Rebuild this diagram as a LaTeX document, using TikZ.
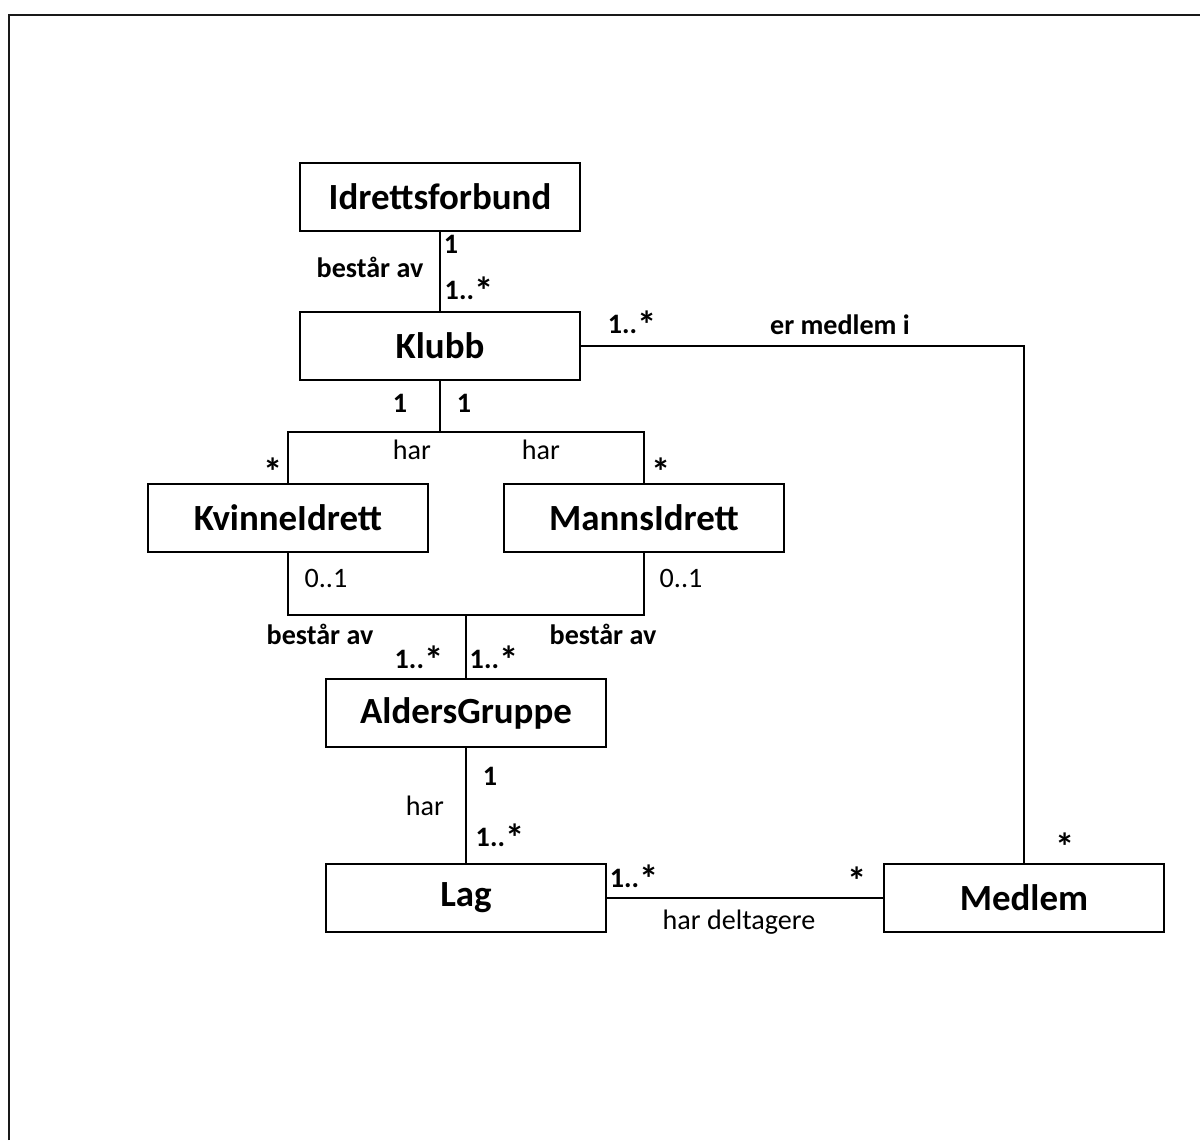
\documentclass[tikz,border=0pt]{standalone}
\usepackage{fontspec}
\setmainfont{Carlito}
\usetikzlibrary{calc}

\begin{document}
\begin{tikzpicture}[x=0.02cm,y=-0.02cm]

		% INPUTS:
		\newcommand{\klassew}{5.6cm};		% width of a class box
		\newcommand{\klasseh}{1.36cm};		% height of a class box
		\newcommand{\stj}{{\fontsize{22}{22}\selectfont *}}	% larger star for multiplicities
		\newcommand{\enstj}{1..\raisebox{-3pt}{\stj}}		% the multiplicity 1..*

		% styles
		\tikzstyle{klasse}=[draw,line width=1.5pt,minimum width=\klassew,minimum height=\klasseh,font=\fontsize{21}{24}\selectfont\bfseries];
		\tikzstyle{forbindelse}=[line width=1.5pt];
		\tikzstyle{etikett}=[inner sep=1pt,font=\fontsize{16}{19}\selectfont\bfseries];
		\tikzstyle{tynn}=[inner sep=1pt,font=\fontsize{16}{19}\selectfont];

		% page and outer frame (only left and top edge are visible)
		\useasboundingbox (0,0) rectangle (1200,1140);
		\draw[line width=1.7pt,black!90] (9,1140) -- (9,15) -- (1200,15);

		% the classes
		\node[klasse] (forbund) at (440,197) {Idrettsforbund};
		\node[klasse] (klubb) at (440,346) {Klubb};
		\node[klasse] (kvinne) at (288,518) {KvinneIdrett};
		\node[klasse] (manns) at (644,518) {MannsIdrett};
		\node[klasse] (alders) at (466,713) {AldersGruppe};
		\node[klasse] (lag) at (466,898) {Lag};
		\node[klasse] (medlem) at (1024,898) {Medlem};

		% branch points of the connectors
		\coordinate (delhar) at (440,432);
		\coordinate (delbest) at (466,615);

		% drawing the connectors
		\draw[style=forbindelse] (forbund) -- (klubb);
		\draw[style=forbindelse] (klubb.south) -- (delhar) -| (kvinne.north);
		\draw[style=forbindelse] (delhar) -| (manns.north);
		\draw[style=forbindelse] (kvinne.south) |- (delbest) -| (manns.south);
		\draw[style=forbindelse] (delbest) -- (alders.north);
		\draw[style=forbindelse] (alders) -- (lag);
		\draw[style=forbindelse] (lag) -- (medlem);
		\draw[style=forbindelse] (klubb.east) -| (medlem.north);

		% labels: Idrettsforbund - Klubb
		\node[style=etikett] (m1) at (451,244) {1};
		\node[style=etikett] (n1) at (370,267) {består av};
		\node[style=etikett] (m2) at (469,291) {\enstj};

		% labels: Klubb - Medlem
		\node[style=etikett] (m3) at (632,325) {\enstj};
		\node[style=etikett] (n2) at (840,325) {er medlem i};
		\node[style=etikett] (m4) at (1065,847) {\stj};

		% labels: Klubb - KvinneIdrett / MannsIdrett
		\node[style=etikett] (m5) at (400,403) {1};
		\node[style=etikett] (m6) at (464,403) {1};
		\node[style=tynn] (n3) at (412,450) {har};
		\node[style=tynn] (n4) at (541,450) {har};
		\node[style=etikett] (m7) at (273,472) {\stj};
		\node[style=etikett] (m8) at (661,472) {\stj};

		% labels: KvinneIdrett / MannsIdrett - AldersGruppe
		\node[style=tynn] (m9) at (326,578) {0..1};
		\node[style=tynn] (m10) at (681,578) {0..1};
		\node[style=etikett] (n5) at (320,634) {består av};
		\node[style=etikett] (n6) at (603,634) {består av};
		\node[style=etikett] (m11) at (419,660) {\enstj};
		\node[style=etikett] (m12) at (494,660) {\enstj};

		% labels: AldersGruppe - Lag
		\node[style=etikett] (m13) at (490,776) {1};
		\node[style=tynn] (n7) at (425,806) {har};
		\node[style=etikett] (m14) at (500,838) {\enstj};

		% labels: Lag - Medlem
		\node[style=etikett] (m15) at (634,879) {\enstj};
		\node[style=etikett] (m16) at (857,881) {\stj};
		\node[style=tynn] (n8) at (739,922) {har deltagere};

\end{tikzpicture}
\end{document}
